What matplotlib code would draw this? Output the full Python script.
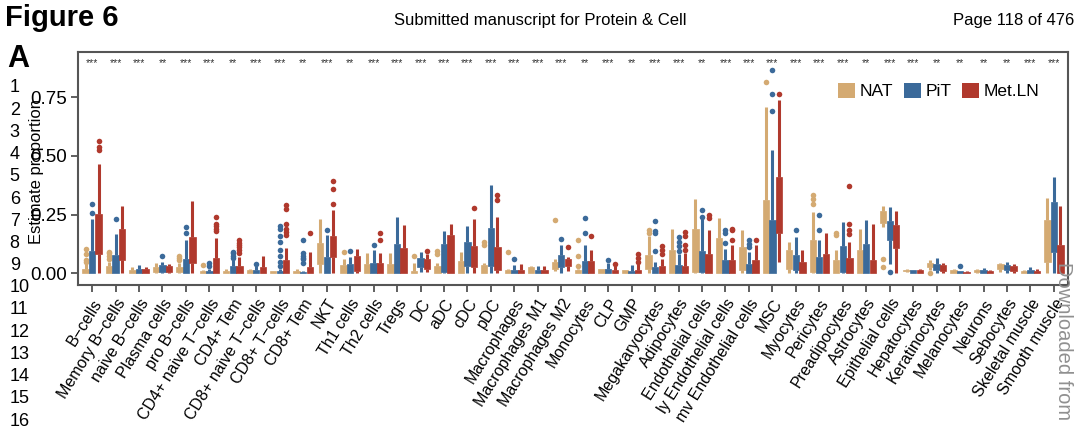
import matplotlib
matplotlib.use("Agg")
import matplotlib.pyplot as plt
from matplotlib.patches import Patch

# 세포 유형 (x축)
cell_types = ["B\u2212cells", "Memory B\u2212cells", "naive B\u2212cells", "Plasma cells", "pro B\u2212cells",
              "CD4+ naive T\u2212cells", "CD4+ Tem", "CD8+ naive T\u2212cells", "CD8+ T\u2212cells", "CD8+ Tem",
              "NKT", "Th1 cells", "Th2 cells", "Tregs", "DC", "aDC", "cDC", "pDC", "Macrophages",
              "Macrophages M1", "Macrophages M2", "Monocytes", "CLP", "GMP", "Megakaryocytes",
              "Adipocytes", "Endothelial cells", "ly Endothelial cells", "mv Endothelial cells", "MSC",
              "Myocytes", "Pericytes", "Preadipocytes", "Astrocytes", "Epithelial cells", "Hepatocytes",
              "Keratinocytes", "Melanocytes", "Neurons", "Sebocytes", "Skeletal muscle", "Smooth muscle"]

signif = ["***", "***", "***", "**", "***", "***", "**", "***", "***", "**",
          "***", "**", "***", "***", "***", "***", "***", "***", "***", "***",
          "***", "**", "***", "**", "***", "***", "**", "***", "***", "***",
          "***", "***", "***", "**", "***", "***", "**", "**", "**", "**",
          "***", "***"]

groups = ["NAT", "PiT", "Met.LN"]
colors = ["#D4AA72", "#3B6A9A", "#B0392D"]

# 박스 통계값: q1, q3, 아래 수염, 위 수염
nat_q1 = [0, 0, 0, 0.005, 0.005, 0, 0, 0, 0, 0, 0.04, 0, 0, 0, 0, 0, 0, 0, 0, 0, 0.02,
          0, 0, 0, 0.018, 0, 0.005, 0, 0.013, 0, 0.02, 0.005, 0, 0, 0.215, 0.008, 0.025, 0, 0.005, 0.02, 0, 0.05]
nat_q3 = [0.02, 0.03, 0.015, 0.025, 0.025, 0.01, 0.01, 0.015, 0.008, 0.01, 0.13, 0.037, 0.04, 0.04, 0.01,
          0.03, 0.054, 0.037, 0.015, 0.025, 0.048, 0.015, 0.02, 0.015, 0.077, 0.098, 0.19, 0.15, 0.112,
          0.314, 0.098, 0.14, 0.055, 0.1, 0.264, 0.015, 0.045, 0.012, 0.015, 0.04, 0.01, 0.226]
nat_lo = [0, 0, 0, 0, 0, 0, 0, 0, 0, 0, 0, 0, 0, 0, 0, 0, 0, 0, 0, 0, 0.01,
          0, 0, 0, 0, 0, 0, 0, 0, 0, 0, 0, 0, 0, 0.197, 0.005, 0.015, 0, 0, 0.005, 0, 0]
nat_hi = [0.04, 0.05, 0.027, 0.045, 0.045, 0.015, 0.02, 0.02, 0.01, 0.02, 0.23, 0.06, 0.085, 0.085, 0.045,
          0.045, 0.09, 0.045, 0.02, 0.03, 0.06, 0.02, 0.02, 0.015, 0.16, 0.19, 0.317, 0.236, 0.183,
          0.71, 0.133, 0.26, 0.098, 0.19, 0.287, 0.02, 0.055, 0.02, 0.02, 0.045, 0.015, 0.32]
nat_fliers = {0: [0.05, 0.055, 0.08, 0.105], 1: [0.06, 0.075, 0.085, 0.09], 4: [0.055, 0.065, 0.075],
              5: [0.037], 11: [0.089], 14: [0.075], 15: [0.08, 0.095], 17: [0.12, 0.135], 18: [0.09],
              20: [0.225], 21: [0.03, 0.075, 0.14], 24: [0.17, 0.185], 29: [0.815],
              31: [0.297, 0.318, 0.332], 32: [0.163, 0.17], 34: [0.027, 0.062], 36: [0.0]}

pit_q1 = [0, 0, 0, 0.005, 0, 0, 0, 0, 0, 0, 0, 0, 0, 0, 0.025, 0.005, 0.033, 0.03, 0, 0, 0.027,
          0, 0, 0, 0, 0, 0.005, 0, 0, 0, 0.013, 0, 0.005, 0, 0.143, 0.003, 0.013, 0, 0.003, 0.015, 0.003, 0.09]
pit_q3 = [0.097, 0.077, 0.02, 0.035, 0.062, 0.01, 0.03, 0.015, 0.01, 0.005, 0.07, 0.04, 0.044, 0.126, 0.065,
          0.125, 0.133, 0.195, 0.015, 0.015, 0.077, 0.054, 0.02, 0.01, 0.027, 0.037, 0.094, 0.055, 0.04,
          0.226, 0.077, 0.07, 0.115, 0.126, 0.223, 0.012, 0.04, 0.008, 0.015, 0.035, 0.015, 0.304]
pit_lo = [0, 0, 0, 0, 0, 0, 0, 0, 0, 0, 0, 0, 0, 0, 0.005, 0, 0, 0, 0, 0, 0,
          0, 0, 0, 0, 0, 0, 0, 0, 0, 0, 0, 0, 0, 0.04, 0, 0, 0, 0, 0, 0, 0]
pit_hi = [0.23, 0.168, 0.034, 0.05, 0.143, 0.02, 0.055, 0.03, 0.02, 0.01, 0.165, 0.07, 0.1, 0.238, 0.09,
          0.182, 0.2, 0.378, 0.035, 0.03, 0.122, 0.122, 0.045, 0.035, 0.05, 0.084, 0.23, 0.105, 0.09,
          0.527, 0.155, 0.14, 0.22, 0.226, 0.283, 0.015, 0.063, 0.01, 0.022, 0.05, 0.025, 0.41]
pit_fliers = {0: [0.257, 0.297], 1: [0.233], 3: [0.075], 4: [0.173, 0.197], 5: [0.03, 0.044],
              6: [0.065, 0.075, 0.085, 0.09], 7: [0.04], 8: [0.03, 0.05, 0.075, 0.1, 0.135, 0.16, 0.19, 0.2],
              9: [0.045, 0.06, 0.065, 0.075, 0.085, 0.14], 10: [0.183], 11: [0.097], 12: [0.12],
              18: [0.06], 20: [0.148], 21: [0.172, 0.236], 22: [0.055], 24: [0.097, 0.17, 0.179, 0.222],
              25: [0.097, 0.115, 0.135, 0.155], 26: [0.24, 0.27], 27: [0.13, 0.17, 0.183],
              28: [0.11, 0.125, 0.14], 29: [0.69, 0.765, 0.865], 30: [0.186], 31: [0.183, 0.247],
              34: [0.005], 37: [0.03]}

met_q1 = [0.082, 0.058, 0, 0.005, 0.044, 0, 0, 0, 0, 0, 0.07, 0.008, 0, 0, 0.02, 0.002, 0.027, 0.016, 0, 0, 0.03,
          0, 0, 0, 0, 0, 0, 0, 0, 0.172, 0, 0, 0, 0, 0.108, 0, 0.01, 0, 0.002, 0.01, 0, 0]
met_q3 = [0.254, 0.19, 0.02, 0.03, 0.155, 0.065, 0.03, 0.025, 0.058, 0.025, 0.158, 0.072, 0.044, 0.108, 0.06,
          0.163, 0.118, 0.112, 0.015, 0.015, 0.06, 0.054, 0.015, 0.015, 0.033, 0.033, 0.08, 0.055, 0.055,
          0.41, 0.048, 0.08, 0.065, 0.055, 0.207, 0.012, 0.037, 0.005, 0.01, 0.03, 0.01, 0.122]
met_lo = [0, 0, 0, 0, 0, 0, 0, 0, 0, 0, 0, 0, 0, 0, 0.005, 0, 0, 0, 0, 0, 0.01,
          0, 0, 0, 0, 0, 0, 0, 0, 0.05, 0, 0, 0, 0, 0, 0, 0, 0, 0, 0, 0, 0]
met_hi = [0.466, 0.288, 0.025, 0.04, 0.307, 0.15, 0.07, 0.075, 0.108, 0.09, 0.27, 0.105, 0.085, 0.205, 0.08,
          0.21, 0.23, 0.24, 0.04, 0.03, 0.07, 0.1, 0.03, 0.04, 0.06, 0.087, 0.186, 0.12, 0.12,
          0.737, 0.098, 0.17, 0.133, 0.21, 0.264, 0.02, 0.045, 0.008, 0.015, 0.04, 0.02, 0.285]
met_fliers = {0: [0.527, 0.538, 0.562], 5: [0.18, 0.19, 0.2, 0.21, 0.24], 6: [0.085, 0.1, 0.11, 0.12, 0.13, 0.14],
              8: [0.163, 0.176, 0.19, 0.21, 0.274, 0.291], 9: [0.172], 10: [0.297, 0.36, 0.395],
              12: [0.143, 0.172], 14: [0.095], 16: [0.278], 17: [0.314, 0.332], 20: [0.112], 21: [0.158],
              22: [0.04], 23: [0.05, 0.065, 0.08], 24: [0.084, 0.1, 0.115], 25: [0.1, 0.12, 0.157, 0.176],
              26: [0.236, 0.25], 27: [0.14, 0.183, 0.19], 28: [0.14], 29: [0.763],
              32: [0.166, 0.186, 0.209, 0.37]}

stats_all = [(nat_q1, nat_q3, nat_lo, nat_hi, nat_fliers),
             (pit_q1, pit_q3, pit_lo, pit_hi, pit_fliers),
             (met_q1, met_q3, met_lo, met_hi, met_fliers)]

fig = plt.figure(figsize=(10.8, 4.28), dpi=100)
plt.rcParams['font.family'] = ['Liberation Sans', 'DejaVu Sans']

ax = fig.add_axes([78 / 1080, 1 - 285 / 428, 990 / 1080, 233 / 428])

width = 0.27
offsets = [-0.28, 0.0, 0.28]
for g in range(3):
    q1, q3, lo, hi, fl = stats_all[g]
    c = colors[g]
    stats = []
    for i in range(len(cell_types)):
        stats.append(dict(q1=q1[i], q3=q3[i], med=q1[i], whislo=lo[i], whishi=hi[i],
                          fliers=fl.get(i, [])))
    pos = [i + offsets[g] for i in range(len(cell_types))]
    ax.bxp(stats, positions=pos, widths=width, patch_artist=True, showcaps=False,
           boxprops=dict(facecolor=c, edgecolor=c, linewidth=0.5),
           whiskerprops=dict(color=c, linewidth=2.2, solid_capstyle='butt'),
           medianprops=dict(color=c, linewidth=0),
           flierprops=dict(marker='o', markerfacecolor=c, markeredgecolor='none', markersize=4))

for i, s in enumerate(signif):
    ax.text(i, 0.895, s, ha='center', va='center', fontsize=7.5, color='#333333')

ax.set_xlim(-0.6, len(cell_types) - 0.4)
ax.set_ylim(-0.05, 0.943)
ax.set_yticks([0, 0.25, 0.5, 0.75])
ax.set_yticklabels(["0.00", "0.25", "0.50", "0.75"], fontsize=13.5)
ax.set_xticks(range(len(cell_types)))
ax.set_xticklabels(cell_types, rotation=58, ha='right', rotation_mode='anchor', fontsize=11.5)
ax.tick_params(axis='both', direction='out', length=5, width=1.2, color='#444444', pad=3)
for sp in ax.spines.values():
    sp.set_color('#555555')
    sp.set_linewidth(1.5)

handles = [Patch(facecolor=c, edgecolor='none') for c in colors]
ax.legend(handles, groups, loc='upper left', bbox_to_anchor=(0.752, 0.935), ncol=3, frameon=False,
          handlelength=1.0, handleheight=1.0, handletextpad=0.25, columnspacing=0.6, fontsize=12.5)

# 페이지 머리글과 줄 번호
fig.text(0.005, 0.958, "Figure 6", fontsize=21, fontweight='bold', va='center', ha='left')
fig.text(0.5, 0.952, "Submitted manuscript for Protein & Cell", fontsize=12, va='center', ha='center')
fig.text(0.995, 0.952, "Page 118 of 476", fontsize=12, va='center', ha='right')
fig.text(0.007, 0.862, "A", fontsize=22, fontweight='bold', va='center', ha='left')

for n in range(1, 17):
    y = 88 + (n - 1) * 22.2
    fig.text(0.009, 1 - y / 428, str(n), fontsize=13, va='center', ha='left')

fig.text(0.034, 1 - 172 / 428, "Estimate proportion", rotation=90, fontsize=12, va='center', ha='center')
fig.text(0.985, 1 - 262 / 428, "Downloaded from", rotation=-90, fontsize=14.5, va='top', ha='center',
         color='#909090')

fig.savefig("out.png", dpi=100)
